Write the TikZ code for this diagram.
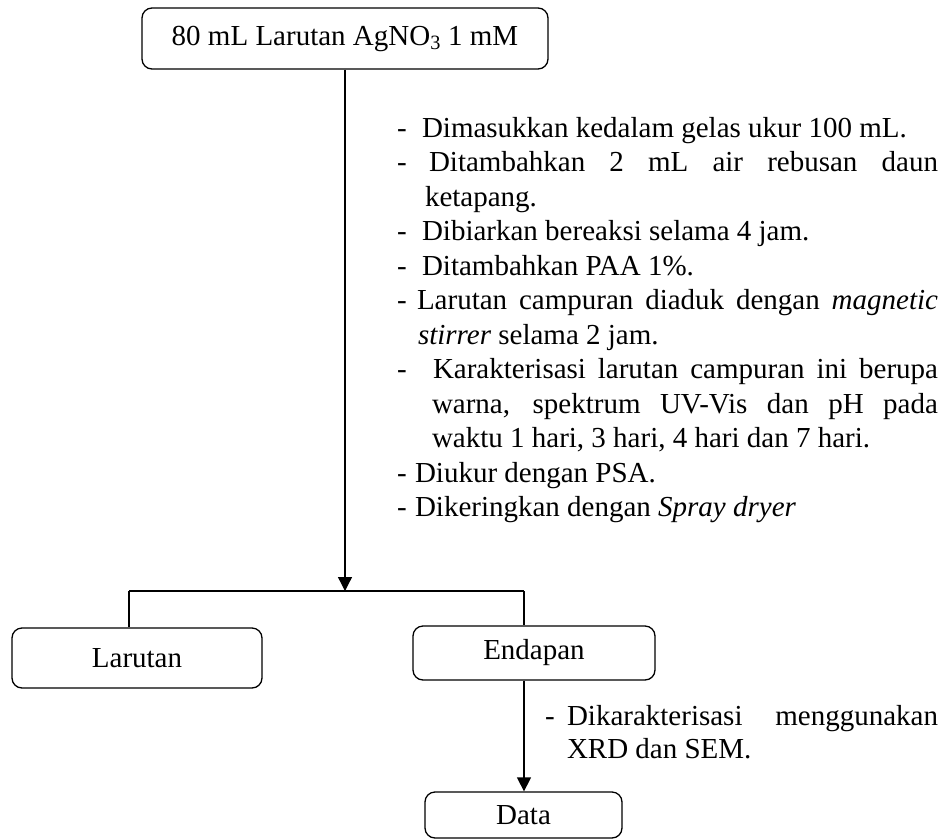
\documentclass[tikz,border=0pt]{standalone}
\usepackage{fontspec}
\setmainfont{Liberation Serif}
\usetikzlibrary{arrows.meta}
\begin{document}
\begin{tikzpicture}[x=1pt,y=-1pt,
  box/.style={draw,line width=1.3pt,rounded corners=10pt,inner sep=0pt,align=center},
  conn/.style={line width=1.3pt},
  arr/.style={line width=1.3pt,-{Triangle[length=14pt,width=14pt]}},
  txt/.style={anchor=base west,inner sep=0pt,outer sep=0pt}]
\useasboundingbox (0,0) rectangle (946,839);
\fontsize{29}{34.5}\selectfont
% boxes
\node[box,minimum width=406pt,minimum height=61pt] (top) at (345,38.5) {80 mL Larutan AgNO\textsubscript{3} 1 mM};
\node[box,minimum width=250pt,minimum height=60pt] (lar) at (137,658) {Larutan};
\node[box,minimum width=242pt,minimum height=54pt] (end) at (534,653) {Endapan};
\node[box,minimum width=197pt,minimum height=46pt] (data) at (523.5,815) {Data};
% junction coordinates
\coordinate (j) at (345,591);
\coordinate (hl) at (129,591);
\coordinate (hr) at (524,591);
% connectors
\draw[arr] (top.south -| j) -- (j);
\draw[conn] (hl) -- (hr);
\draw[conn] (hl) -- (hl |- lar.north);
\draw[conn] (hr) -- (hr |- end.north);
\draw[arr] (end.south -| hr) -- (data.north -| hr);
% list text (upper)
\foreach \i in {0,1,3,4,5,7,10,11}{
  \node[txt] (d\i) at (397,137+34.5*\i) {-};
}
\node[txt] (l1) at (422,137) {Dimasukkan kedalam gelas ukur 100 mL.};
\node[txt] (l2) at (429,171.5) {\makebox[509pt][s]{Ditambahkan 2 mL air rebusan daun}};
\node[txt] (l3) at (425,206) {ketapang.};
\node[txt] (l4) at (422,240.5) {Dibiarkan bereaksi selama 4 jam.};
\node[txt] (l5) at (422,275) {Ditambahkan PAA 1\%.};
\node[txt] (l6) at (417,309.5) {\makebox[521pt][s]{Larutan campuran diaduk dengan \textit{magnetic}}};
\node[txt] (l7) at (418,344) {\textit{stirrer} selama 2 jam.};
\node[txt] (l8) at (433,378.5) {\makebox[505pt][s]{Karakterisasi larutan campuran ini berupa}};
\node[txt] (l9) at (432,413) {\makebox[506pt][s]{warna, spektrum UV-Vis dan pH pada}};
\node[txt] (l10) at (432,447.5) {waktu 1 hari, 3 hari, 4 hari dan 7 hari.};
\node[txt] (l11) at (415,482) {Diukur dengan PSA.};
\node[txt] (l12) at (415,516.5) {Dikeringkan dengan \textit{Spray dryer}};
% lower text
\node[txt] (dd) at (545,725) {-};
\node[txt] (m1) at (567,725) {\makebox[371pt][s]{Dikarakterisasi menggunakan}};
\node[txt] (m2) at (567,758) {XRD dan SEM.};
\end{tikzpicture}
\end{document}
